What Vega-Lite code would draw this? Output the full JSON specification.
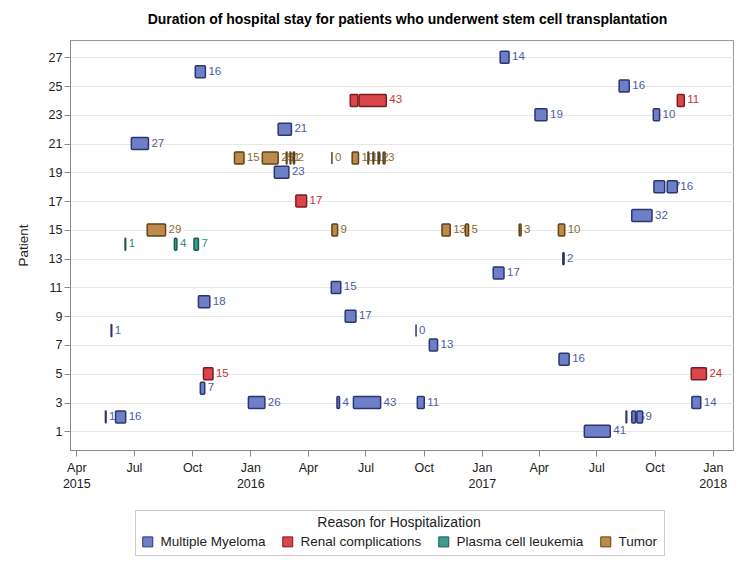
{
  "$schema": "https://vega.github.io/schema/vega-lite/v6.json",
  "autosize": {"type": "none"},
  "width": 663,
  "height": 410,
  "padding": {"left": 70, "top": 40, "right": 17, "bottom": 113},
  "background": "white",
  "title": {"text": "Duration of hospital stay for patients who underwent stem cell transplantation", "fontSize": 14, "font": "Liberation Sans", "fontWeight": "bold", "anchor": "middle", "offset": 13, "color": "#000000", "frame": "group", "dx": 6},
  "config": {"view": {"stroke": "#9a9a9a"}, "font": "Liberation Sans"},
  "data": {"values": [
    {"patient": 27, "reason": "Multiple Myeloma", "start": "2017-01-30", "end": "2017-02-13", "days": 14},
    {"patient": 26, "reason": "Multiple Myeloma", "start": "2015-10-06", "end": "2015-10-22", "days": 16},
    {"patient": 25, "reason": "Multiple Myeloma", "start": "2017-08-06", "end": "2017-08-22", "days": 16},
    {"patient": 24, "reason": "Renal complications", "start": "2016-06-07", "end": "2016-06-19", "days": 12},
    {"patient": 24, "reason": "Renal complications", "start": "2016-06-21", "end": "2016-08-03", "days": 43},
    {"patient": 24, "reason": "Renal complications", "start": "2017-11-06", "end": "2017-11-17", "days": 11},
    {"patient": 23, "reason": "Multiple Myeloma", "start": "2017-03-26", "end": "2017-04-14", "days": 19},
    {"patient": 23, "reason": "Multiple Myeloma", "start": "2017-09-29", "end": "2017-10-09", "days": 10},
    {"patient": 22, "reason": "Multiple Myeloma", "start": "2016-02-14", "end": "2016-03-06", "days": 21},
    {"patient": 21, "reason": "Multiple Myeloma", "start": "2015-06-27", "end": "2015-07-24", "days": 27},
    {"patient": 20, "reason": "Tumor", "start": "2015-12-07", "end": "2015-12-22", "days": 15},
    {"patient": 20, "reason": "Tumor", "start": "2016-01-20", "end": "2016-02-14", "days": 25},
    {"patient": 20, "reason": "Tumor", "start": "2016-02-27", "end": "2016-02-28", "days": 1},
    {"patient": 20, "reason": "Tumor", "start": "2016-03-04", "end": "2016-03-05", "days": 1},
    {"patient": 20, "reason": "Tumor", "start": "2016-03-09", "end": "2016-03-11", "days": 2},
    {"patient": 20, "reason": "Tumor", "start": "2016-05-09", "end": "2016-05-09", "days": 0},
    {"patient": 20, "reason": "Tumor", "start": "2016-06-10", "end": "2016-06-20", "days": 10},
    {"patient": 20, "reason": "Tumor", "start": "2016-07-05", "end": "2016-07-06", "days": 1},
    {"patient": 20, "reason": "Tumor", "start": "2016-07-13", "end": "2016-07-14", "days": 1},
    {"patient": 20, "reason": "Tumor", "start": "2016-07-21", "end": "2016-07-23", "days": 2},
    {"patient": 20, "reason": "Tumor", "start": "2016-07-29", "end": "2016-08-01", "days": 3},
    {"patient": 19, "reason": "Multiple Myeloma", "start": "2016-02-08", "end": "2016-03-02", "days": 23},
    {"patient": 18, "reason": "Multiple Myeloma", "start": "2017-09-30", "end": "2017-10-17", "days": 17},
    {"patient": 18, "reason": "Multiple Myeloma", "start": "2017-10-21", "end": "2017-11-06", "days": 16},
    {"patient": 17, "reason": "Renal complications", "start": "2016-03-13", "end": "2016-03-30", "days": 17},
    {"patient": 16, "reason": "Multiple Myeloma", "start": "2017-08-26", "end": "2017-09-27", "days": 32},
    {"patient": 15, "reason": "Tumor", "start": "2015-07-22", "end": "2015-08-20", "days": 29},
    {"patient": 15, "reason": "Tumor", "start": "2016-05-09", "end": "2016-05-18", "days": 9},
    {"patient": 15, "reason": "Tumor", "start": "2016-10-30", "end": "2016-11-12", "days": 13},
    {"patient": 15, "reason": "Tumor", "start": "2016-12-06", "end": "2016-12-11", "days": 5},
    {"patient": 15, "reason": "Tumor", "start": "2017-03-01", "end": "2017-03-04", "days": 3},
    {"patient": 15, "reason": "Tumor", "start": "2017-05-02", "end": "2017-05-12", "days": 10},
    {"patient": 14, "reason": "Plasma cell leukemia", "start": "2015-06-17", "end": "2015-06-18", "days": 1},
    {"patient": 14, "reason": "Plasma cell leukemia", "start": "2015-09-03", "end": "2015-09-07", "days": 4},
    {"patient": 14, "reason": "Plasma cell leukemia", "start": "2015-10-04", "end": "2015-10-11", "days": 7},
    {"patient": 13, "reason": "Multiple Myeloma", "start": "2017-05-09", "end": "2017-05-11", "days": 2},
    {"patient": 12, "reason": "Multiple Myeloma", "start": "2017-01-19", "end": "2017-02-05", "days": 17},
    {"patient": 11, "reason": "Multiple Myeloma", "start": "2016-05-08", "end": "2016-05-23", "days": 15},
    {"patient": 10, "reason": "Multiple Myeloma", "start": "2015-10-11", "end": "2015-10-29", "days": 18},
    {"patient": 9, "reason": "Multiple Myeloma", "start": "2016-05-30", "end": "2016-06-16", "days": 17},
    {"patient": 8, "reason": "Multiple Myeloma", "start": "2015-05-26", "end": "2015-05-27", "days": 1},
    {"patient": 8, "reason": "Multiple Myeloma", "start": "2016-09-19", "end": "2016-09-19", "days": 0},
    {"patient": 7, "reason": "Multiple Myeloma", "start": "2016-10-10", "end": "2016-10-23", "days": 13},
    {"patient": 6, "reason": "Multiple Myeloma", "start": "2017-05-03", "end": "2017-05-19", "days": 16},
    {"patient": 5, "reason": "Renal complications", "start": "2015-10-19", "end": "2015-11-03", "days": 15},
    {"patient": 5, "reason": "Renal complications", "start": "2017-11-28", "end": "2017-12-22", "days": 24},
    {"patient": 4, "reason": "Multiple Myeloma", "start": "2015-10-14", "end": "2015-10-21", "days": 7},
    {"patient": 3, "reason": "Multiple Myeloma", "start": "2015-12-29", "end": "2016-01-24", "days": 26},
    {"patient": 3, "reason": "Multiple Myeloma", "start": "2016-05-17", "end": "2016-05-21", "days": 4},
    {"patient": 3, "reason": "Multiple Myeloma", "start": "2016-06-12", "end": "2016-07-25", "days": 43},
    {"patient": 3, "reason": "Multiple Myeloma", "start": "2016-09-21", "end": "2016-10-02", "days": 11},
    {"patient": 3, "reason": "Multiple Myeloma", "start": "2017-11-29", "end": "2017-12-13", "days": 14},
    {"patient": 2, "reason": "Multiple Myeloma", "start": "2015-05-17", "end": "2015-05-18", "days": 1},
    {"patient": 2, "reason": "Multiple Myeloma", "start": "2015-06-02", "end": "2015-06-18", "days": 16},
    {"patient": 2, "reason": "Multiple Myeloma", "start": "2017-08-17", "end": "2017-08-18", "days": 1},
    {"patient": 2, "reason": "Multiple Myeloma", "start": "2017-08-26", "end": "2017-09-01", "days": 6},
    {"patient": 2, "reason": "Multiple Myeloma", "start": "2017-09-03", "end": "2017-09-12", "days": 9},
    {"patient": 1, "reason": "Multiple Myeloma", "start": "2017-06-12", "end": "2017-07-23", "days": 41}
  ]},
  "encoding": {
    "x": {"field": "start", "type": "temporal",
      "scale": {"type": "utc", "domain": [{"year": 2015, "month": 3, "date": 22, "utc": true}, {"year": 2018, "month": 2, "date": 2, "utc": true}]},
      "axis": {"title": null, "grid": false,
        "values": [
          {"year": 2015, "month": 4, "date": 1, "utc": true},
          {"year": 2015, "month": 7, "date": 1, "utc": true},
          {"year": 2015, "month": 10, "date": 1, "utc": true},
          {"year": 2016, "month": 1, "date": 1, "utc": true},
          {"year": 2016, "month": 4, "date": 1, "utc": true},
          {"year": 2016, "month": 7, "date": 1, "utc": true},
          {"year": 2016, "month": 10, "date": 1, "utc": true},
          {"year": 2017, "month": 1, "date": 1, "utc": true},
          {"year": 2017, "month": 4, "date": 1, "utc": true},
          {"year": 2017, "month": 7, "date": 1, "utc": true},
          {"year": 2017, "month": 10, "date": 1, "utc": true},
          {"year": 2018, "month": 1, "date": 1, "utc": true}
        ],
        "labelExpr": "(utcmonth(datum.value) == 0 || datum.index == 0) ? [utcFormat(datum.value, '%b'), utcFormat(datum.value, '%Y')] : utcFormat(datum.value, '%b')",
        "labelFontSize": 12.5, "labelColor": "#222222", "labelLineHeight": 16, "labelPadding": 5,
        "tickColor": "#888888", "domainColor": "#888888", "tickSize": 6, "labelFlush": false, "labelOverlap": false}
    },
    "y": {"field": "patient", "type": "quantitative", "stack": null,
      "scale": {"domain": [-0.3, 28.2], "nice": false, "zero": false},
      "axis": {"title": "Patient", "titleFontWeight": "normal", "titleFontSize": 13.5, "titleColor": "#222222", "titlePadding": 18,
        "values": [1, 3, 5, 7, 9, 11, 13, 15, 17, 19, 21, 23, 25, 27], "labelOverlap": false,
        "grid": true, "gridColor": "#e8e8e8", "labelFontSize": 12.5, "labelColor": "#222222",
        "tickColor": "#888888", "domainColor": "#888888", "tickSize": 6}
    }
  },
  "layer": [
    {
      "transform": [{"filter": "datum.reason == 'Multiple Myeloma'"}],
      "mark": {"type": "text", "align": "left", "baseline": "middle", "dx": 3, "fontSize": 11.5, "font": "Liberation Sans", "color": "#4b5ba6"},
      "encoding": {"x": {"field": "end", "type": "temporal"}, "text": {"field": "days", "type": "quantitative"}}
    },
    {
      "transform": [{"filter": "datum.reason == 'Renal complications'"}],
      "mark": {"type": "text", "align": "left", "baseline": "middle", "dx": 3, "fontSize": 11.5, "font": "Liberation Sans", "color": "#c43333"},
      "encoding": {"x": {"field": "end", "type": "temporal"}, "text": {"field": "days", "type": "quantitative"}}
    },
    {
      "transform": [{"filter": "datum.reason == 'Plasma cell leukemia'"}],
      "mark": {"type": "text", "align": "left", "baseline": "middle", "dx": 3, "fontSize": 11.5, "font": "Liberation Sans", "color": "#2e8b7e"},
      "encoding": {"x": {"field": "end", "type": "temporal"}, "text": {"field": "days", "type": "quantitative"}}
    },
    {
      "transform": [{"filter": "datum.reason == 'Tumor'"}],
      "mark": {"type": "text", "align": "left", "baseline": "middle", "dx": 3, "fontSize": 11.5, "font": "Liberation Sans", "color": "#8c6a2e"},
      "encoding": {"x": {"field": "end", "type": "temporal"}, "text": {"field": "days", "type": "quantitative"}}
    },
    {
      "mark": {"type": "rect", "height": 12, "strokeWidth": 1.5, "cornerRadius": 1},
      "encoding": {
        "x2": {"field": "end"},
        "fill": {"field": "reason", "type": "nominal",
          "scale": {"domain": ["Multiple Myeloma", "Renal complications", "Plasma cell leukemia", "Tumor"], "range": ["#6c7fc7", "#d9464b", "#3c9c8f", "#bc8a4a"]},
          "legend": {"title": "Reason for Hospitalization", "orient": "none", "legendX": 65, "legendY": 470, "direction": "horizontal",
            "titleAnchor": "middle", "titleFontSize": 14, "titleFontWeight": "normal", "titleColor": "#222222",
            "labelFontSize": 13.5, "labelColor": "#222222", "strokeColor": "#cccccc", "padding": 6, "symbolType": "square", "symbolSize": 100, "columnPadding": 14, "labelOffset": 6, "symbolStrokeWidth": 1}},
        "stroke": {"field": "reason", "type": "nominal",
          "scale": {"domain": ["Multiple Myeloma", "Renal complications", "Plasma cell leukemia", "Tumor"], "range": ["#2b3572", "#7e1a1e", "#1c5a52", "#5f4218"]},
          "legend": {"title": "Reason for Hospitalization", "orient": "none", "legendX": 65, "legendY": 470, "direction": "horizontal",
            "titleAnchor": "middle", "titleFontSize": 14, "titleFontWeight": "normal", "titleColor": "#222222",
            "labelFontSize": 13.5, "labelColor": "#222222", "strokeColor": "#cccccc", "padding": 6, "symbolType": "square", "symbolSize": 100, "columnPadding": 14, "labelOffset": 6, "symbolStrokeWidth": 1}}
      }
    }
  ]
}
